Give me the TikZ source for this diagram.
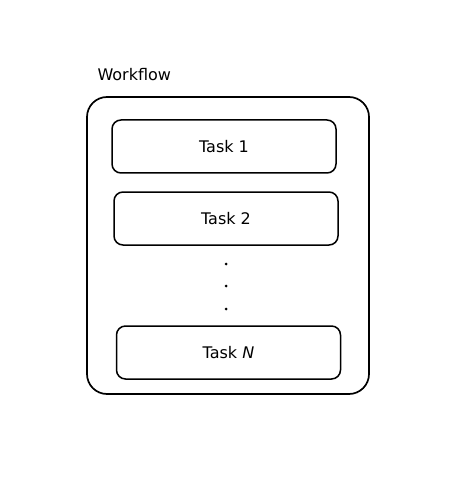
\documentclass[tikz,border=0pt]{standalone}
\usepackage{fontspec}
\setmainfont{DejaVu Sans}
\usetikzlibrary{positioning}
\tikzset{
  taskbox/.style={draw, line width=1.5pt, rounded corners=9pt, minimum width=224pt, minimum height=53pt, inner sep=0pt, font=\fontsize{16}{19}\selectfont},
  wfbox/.style={draw, line width=1.7pt, rounded corners=20pt, minimum width=282pt, minimum height=297pt, inner sep=0pt}
}
\begin{document}
\begin{tikzpicture}[x=1pt,y=-1pt]
\useasboundingbox (0,0) rectangle (475,478);
%Workflow
\node[wfbox] (wf) at (228,245.5) {};
\node[anchor = west, font=\fontsize{16}{19}\selectfont] (wflabel) at (94,75) {Workflow};
%Tasks
\node[taskbox] (t1) at (224,146.5) {Task 1};
\node[taskbox] (t2) at (226,218.5) {Task 2};
\node[taskbox] (tn) at (228.5,352.5) {Task \textit{N}};
%Dots
\fill (226,264) circle (1.5) node (d1) {};
\fill (226,286) circle (1.5) node (d2) {};
\fill (226,309) circle (1.5) node (d3) {};
\end{tikzpicture}
\end{document}
